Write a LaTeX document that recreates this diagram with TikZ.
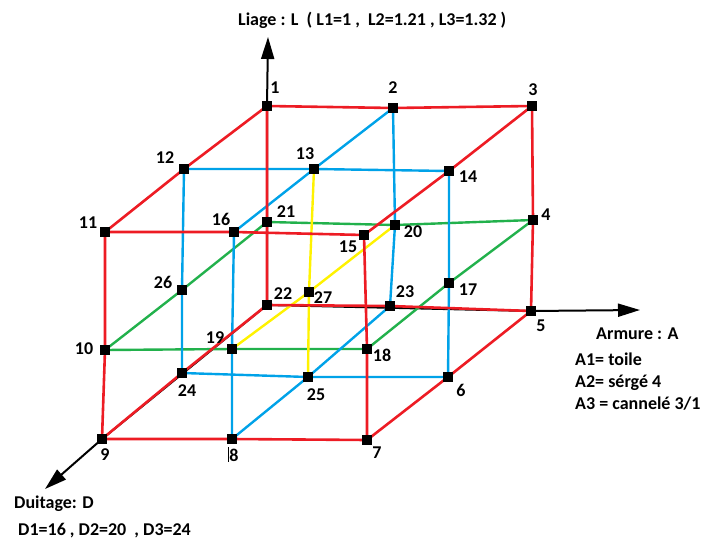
\documentclass[tikz,border=0pt]{standalone}
\usepackage{fontspec}
\setmainfont{Carlito}
\usetikzlibrary{arrows.meta}
\definecolor{pred}{HTML}{ED1C24}
\definecolor{pblue}{HTML}{00A2E8}
\definecolor{pgreen}{HTML}{22B14C}
\definecolor{pyellow}{HTML}{FFF200}
\tikzset{
  redline/.style={draw=pred,line width=2.6pt},
  blueline/.style={draw=pblue,line width=2.4pt},
  greenline/.style={draw=pgreen,line width=2.4pt},
  yellowline/.style={draw=pyellow,line width=2.4pt},
  axis/.style={draw=black,line width=2pt,-{Triangle[width=13pt,length=22pt]}},
  pt/.style={rectangle,fill=black,minimum size=10pt,inner sep=0pt,draw=none},
  lab/.style={font=\fontsize{18}{21}\selectfont\bfseries,inner sep=0pt,text=black},
  txt/.style={font=\fontsize{18}{21}\selectfont\bfseries,inner sep=0pt,text=black,anchor=base west}
}
\begin{document}
\begin{tikzpicture}[x=1pt,y=-1pt]
\useasboundingbox (0,0) rectangle (703,540);
% back face
\coordinate (c1) at (267,106);
\coordinate (c2) at (393,108);
\coordinate (c3) at (532,106);
\coordinate (c21) at (267,222);
\coordinate (c20) at (395,225);
\coordinate (c4) at (533,220);
\coordinate (c22) at (267,305);
\coordinate (c23) at (390,306);
\coordinate (c5) at (531,311);
% middle layer
\coordinate (c12) at (184,169);
\coordinate (c13) at (314,169);
\coordinate (c14) at (449,171);
\coordinate (c26) at (182,290);
\coordinate (c27) at (309,292);
\coordinate (c17) at (449,283);
\coordinate (c24) at (182,373);
\coordinate (c25) at (308,377);
\coordinate (c6) at (448,377);
% front face
\coordinate (c11) at (105,232);
\coordinate (c16) at (234,232);
\coordinate (c15) at (364,235);
\coordinate (c10) at (105,350);
\coordinate (c19) at (232,349);
\coordinate (c18) at (367,349);
\coordinate (c9) at (102,439);
\coordinate (c8) at (232,439);
\coordinate (c7) at (367,440);
% axis tips
\coordinate (ytip) at (268,37);
\coordinate (xtip) at (640,310);
\coordinate (ztip) at (45,489);
% axes
\draw[axis] (c22) -- (c1) -- (ytip);
\draw[axis] (c22) -- (c5) -- (xtip);
\draw[axis] (c22) -- (c9) -- (ztip);
% green: middle horizontal plane
\draw[greenline] (c21) -- (c20) -- (c4) -- (c17) -- (c18) -- (c19) -- (c10) -- (c26) -- cycle;
% blue: middle depth layer and middle vertical plane
\draw[blueline] (c12) -- (c13) -- (c14) -- (c17) -- (c6) -- (c25) -- (c24) -- (c26) -- cycle;
\draw[blueline] (c2) -- (c13) -- (c16) -- (c19) -- (c8) -- (c25) -- (c23) -- (c20) -- cycle;
% yellow: central lines
\draw[yellowline] (c13) -- (c27) -- (c25);
\draw[yellowline] (c20) -- (c27) -- (c19);
% red: outer edges
\draw[redline] (c1) -- (c2) -- (c3) -- (c4) -- (c5) -- (c23) -- (c22) -- (c21) -- cycle;
\draw[redline] (c11) -- (c16) -- (c15) -- (c18) -- (c7) -- (c8) -- (c9) -- (c10) -- cycle;
\draw[redline] (c1) -- (c12) -- (c11);
\draw[redline] (c3) -- (c14) -- (c15);
\draw[redline] (c5) -- (c6) -- (c7);
\draw[redline] (c22) -- (c24) -- (c9);
% points
\foreach \i in {1,...,27} { \node[pt] (n\i) at (c\i) {}; }
% labels
\node[lab] (l1) at (275,88) {1};
\node[lab] (l2) at (393,88) {2};
\node[lab] (l3) at (533,90) {3};
\node[lab] (l4) at (546,215) {4};
\node[lab] (l5) at (541,326) {5};
\node[lab] (l6) at (461,390) {6};
\node[lab] (l7) at (377,453) {7};
\node[lab] (l8) at (234,455) {8};
\node[lab] (l9) at (105,455) {9};
\node[lab] (l10) at (84,349) {10};
\node[lab] (l11) at (88,223) {11};
\node[lab] (l12) at (165,158) {12};
\node[lab] (l13) at (305,154) {13};
\node[lab] (l14) at (468,177) {14};
\node[lab] (l15) at (348,247) {15};
\node[lab] (l16) at (221,219) {16};
\node[lab] (l17) at (468,290) {17};
\node[lab] (l18) at (382,355) {18};
\node[lab] (l19) at (215,338) {19};
\node[lab] (l20) at (413,232) {20};
\node[lab] (l21) at (286,212) {21};
\node[lab] (l22) at (283,294) {22};
\node[lab] (l23) at (405,292) {23};
\node[lab] (l24) at (187,391) {24};
\node[lab] (l25) at (316,395) {25};
\node[lab] (l26) at (163,282) {26};
\node[lab] (l27) at (323,298) {27};
% small tick beside 8
\coordinate (tk1) at (228,447);
\coordinate (tk2) at (228,462);
\draw[black,line width=1pt] (tk1) -- (tk2);
% texts
\node[txt] (title) at (238,26) {Liage : L\ \ ( L1=1 ,\ \ L2=1.21 , L3=1.32 )};
\node[txt] (arm) at (596,339) {Armure : A};
\node[txt] (a1) at (575,365) {A1= toile};
\node[txt] (a2) at (575,387) {A2= sérgé 4};
\node[txt] (a3) at (575,409) {A3 = cannelé 3/1};
\node[txt] (dui) at (14,508) {Duitage: D};
\node[txt] (dv) at (18,535) {D1=16\ , D2=20\ \ , D3=24};
\end{tikzpicture}
\end{document}
